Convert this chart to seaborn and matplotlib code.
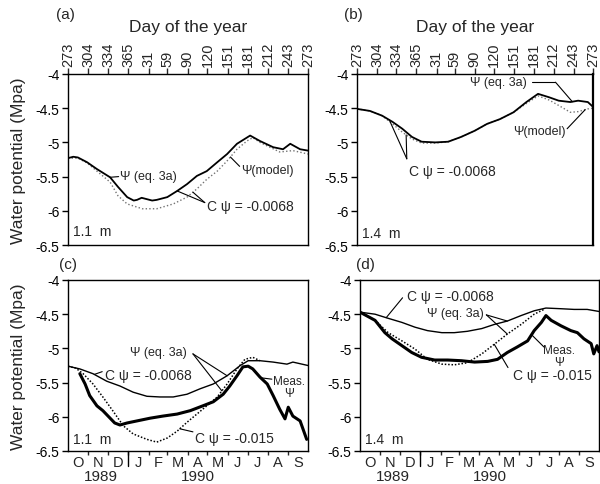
import numpy as np
import matplotlib
matplotlib.use("Agg")
import matplotlib.pyplot as plt
import matplotlib.transforms as mtransforms
import seaborn as sns

sns.set_theme(style="ticks")
plt.rcParams["font.family"] = ["Liberation Sans", "DejaVu Sans"]
plt.rcParams["axes.unicode_minus"] = False

# ---- calendar: days counted from 1 October 1989 ----
MONTH_STARTS = [0, 31, 61, 92, 123, 151, 182, 212, 243, 273, 304, 335, 365]
DOY_LABELS = ["273", "304", "334", "365", "31", "59", "90", "120",
              "151", "181", "212", "243", "273"]
MONTH_LETTERS = ["O", "N", "D", "J", "F", "M", "A", "M", "J", "J", "A", "S"]
YEARS = ["1989", "1990"]
YEAR_DAYS = [50, 198]
YTICKS = [-4, -4.5, -5, -5.5, -6, -6.5]
YTICK_LABELS = ["-4", "-4.5", "-5", "-5.5", "-6", "-6.5"]

# ---- (a) 1.1 m ----
A_EQ_DAY = [0, 8, 15, 29, 44, 64, 76, 90, 100, 105, 112, 120, 128, 135, 151, 166,
            181, 196, 211, 227, 242, 257, 277, 292, 312, 327, 338, 353, 365]
A_EQ_PSI = [-5.23, -5.21, -5.22, -5.29, -5.39, -5.51, -5.65, -5.80, -5.85, -5.84,
            -5.81, -5.83, -5.85, -5.84, -5.80, -5.71, -5.61, -5.49, -5.42, -5.29,
            -5.17, -5.02, -4.90, -4.98, -5.07, -5.10, -5.02, -5.10, -5.12]
A_MOD_DAY = [0, 15, 29, 44, 64, 76, 90, 113, 135, 160, 181, 196, 211, 227, 242,
             257, 272, 281, 292, 322, 342, 365]
A_MOD_PSI = [-5.23, -5.23, -5.30, -5.42, -5.58, -5.78, -5.90, -5.97, -5.97, -5.90,
             -5.80, -5.68, -5.54, -5.42, -5.27, -5.10, -4.98, -4.93, -5.00, -5.14,
             -5.12, -5.17]

# ---- (b) 1.4 m ----
B_EQ_DAY = [0, 20, 39, 55, 70, 85, 100, 121, 141, 161, 182, 201, 221, 242, 262,
            280, 297, 312, 330, 342, 357, 365]
B_EQ_PSI = [-4.51, -4.54, -4.61, -4.70, -4.80, -4.92, -4.99, -5.00, -4.99, -4.92,
            -4.83, -4.73, -4.66, -4.56, -4.41, -4.29, -4.34, -4.39, -4.41, -4.39,
            -4.41, -4.48]
B_MOD_DAY = [0, 20, 39, 55, 70, 85, 100, 121, 141, 161, 182, 201, 221, 242, 262,
             280, 297, 312, 330, 342, 357, 365]
B_MOD_PSI = [-4.51, -4.54, -4.61, -4.73, -4.85, -4.95, -5.01, -5.01, -4.99, -4.92,
             -4.83, -4.73, -4.66, -4.56, -4.43, -4.32, -4.38, -4.46, -4.56, -4.55,
             -4.51, -4.50]

# ---- (c) 1.1 m ----
C_LO_DAY = [0, 18, 38, 59, 79, 99, 120, 140, 160, 181, 201, 221, 242, 262, 274,
            292, 312, 333, 342, 365]
C_LO_PSI = [-5.26, -5.30, -5.37, -5.48, -5.55, -5.64, -5.70, -5.71, -5.71, -5.67,
            -5.59, -5.52, -5.40, -5.25, -5.18, -5.18, -5.20, -5.23, -5.20, -5.25]
C_HI_DAY = [0, 12, 23, 38, 53, 68, 84, 99, 120, 135, 151, 166, 181, 196, 211, 227,
            242, 257, 269, 281, 292]
C_HI_PSI = [-5.26, -5.29, -5.37, -5.52, -5.71, -5.91, -6.13, -6.25, -6.33, -6.37,
            -6.31, -6.21, -6.08, -5.96, -5.84, -5.71, -5.52, -5.30, -5.16, -5.13,
            -5.18]
C_MEAS_DAY = [18, 26, 33, 44, 53, 64, 71, 79, 90, 105, 125, 144, 166, 186, 205,
              221, 236, 246, 257, 266, 274, 281, 292, 303, 312, 322, 330, 335, 342,
              353, 363]
C_MEAS_PSI = [-5.37, -5.52, -5.69, -5.84, -5.91, -6.02, -6.09, -6.12, -6.09, -6.06,
              -6.02, -5.99, -5.96, -5.91, -5.84, -5.78, -5.67, -5.55, -5.40, -5.27,
              -5.26, -5.30, -5.42, -5.52, -5.69, -5.89, -6.03, -5.86, -5.99, -6.06,
              -6.33]

# ---- (d) 1.4 m ----
D_LO_DAY = [0, 23, 43, 64, 84, 103, 125, 144, 164, 186, 205, 225, 246, 266, 284,
            307, 327, 347, 365]
D_LO_PSI = [-4.47, -4.50, -4.56, -4.62, -4.69, -4.74, -4.77, -4.77, -4.75, -4.71,
            -4.65, -4.60, -4.52, -4.45, -4.41, -4.42, -4.43, -4.43, -4.46]
D_HI_DAY = [0, 23, 43, 64, 84, 103, 125, 144, 164, 186, 205, 225, 246, 266, 281]
D_HI_PSI = [-4.47, -4.59, -4.77, -4.89, -5.01, -5.16, -5.23, -5.24, -5.21, -5.08,
            -4.94, -4.79, -4.65, -4.50, -4.43]
D_MEAS_DAY = [0, 23, 38, 49, 64, 79, 94, 114, 134, 155, 175, 195, 210, 225, 240,
              256, 266, 277, 284, 292, 307, 322, 332, 342, 353, 357, 362, 365]
D_MEAS_PSI = [-4.47, -4.59, -4.77, -4.86, -4.96, -5.06, -5.13, -5.17, -5.17, -5.18,
              -5.20, -5.19, -5.16, -5.06, -4.98, -4.89, -4.74, -4.62, -4.52, -4.59,
              -4.67, -4.74, -4.77, -4.86, -4.93, -5.08, -4.96, -5.05]

W, H = 600, 485
fig = plt.figure(figsize=(W / 100, H / 100), dpi=100)


def box(left, top, width, height):
    return fig.add_axes([left / W, 1 - (top + height) / H, width / W, height / H])


ax_a = box(68, 75, 240, 171)
ax_b = box(357, 75, 236, 171)
ax_c = box(68, 281, 240, 171)
ax_d = box(360, 281, 239, 171)


def base_style(ax):
    ax.set_xlim(MONTH_STARTS[0], MONTH_STARTS[-1])
    ax.set_ylim(-6.5, -4)
    ax.set_yticks(YTICKS)
    ax.set_yticklabels(YTICK_LABELS, fontsize=10)
    ax.tick_params(axis="y", direction="out", length=4, width=1, pad=2,
                   left=True, colors="black")
    for s in ax.spines.values():
        s.set_visible(True)
        s.set_color("black")
        s.set_linewidth(1.0)
    ax.set_xlabel("")
    ax.set_ylabel("")


def top_axis(ax):
    ax.xaxis.tick_top()
    ax.set_xticks(MONTH_STARTS)
    ax.set_xticklabels(DOY_LABELS, rotation=90, fontsize=10.5)
    ax.tick_params(axis="x", top=True, bottom=False, direction="out",
                   length=4, width=1, pad=2)
    ax.xaxis.set_label_position("top")
    ax.set_xlabel("Day of the year", fontsize=12.5, labelpad=7)


def month_axis(ax):
    ax.set_xticks(MONTH_STARTS[1:-1])
    ax.set_xticklabels([])
    ax.tick_params(axis="x", which="major", direction="out", length=3,
                   width=1, bottom=True)
    centers = [(a + b) / 2 for a, b in zip(MONTH_STARTS[:-1], MONTH_STARTS[1:])]
    ax.set_xticks(centers, minor=True)
    ax.set_xticklabels(MONTH_LETTERS, minor=True, fontsize=10.5)
    ax.tick_params(axis="x", which="minor", length=0, pad=3)
    trans = mtransforms.blended_transform_factory(ax.transData, ax.transAxes)
    jan = MONTH_STARTS[3]
    ax.plot([jan, jan], [0, -0.09], transform=trans, color="black", lw=1,
            clip_on=False)
    for year, d in zip(YEARS, YEAR_DAYS):
        ax.text(d, -0.145, year, transform=trans, ha="center", va="center",
                fontsize=11)


def line(ax, days, vals, lw=1.0, ls="-", color="black"):
    sns.lineplot(x=days, y=vals, ax=ax, color=color, lw=lw, linestyle=ls,
                 sort=False, estimator=None)


def leader(ax, start, day, days, vals):
    ax.annotate("", xy=(day, np.interp(day, days, vals)), xytext=start,
                arrowprops=dict(arrowstyle="-", color="black", lw=0.8,
                                shrinkA=0, shrinkB=0))


DOT_LIGHT = (0, (1, 1.6))
DOT_DARK = (0, (1, 1.2))

# (a)
line(ax_a, A_MOD_DAY, A_MOD_PSI, lw=1.0, ls=DOT_LIGHT, color="0.45")
line(ax_a, A_EQ_DAY, A_EQ_PSI, lw=1.3)
base_style(ax_a)
top_axis(ax_a)
ax_a.text(79, -5.49, "Ψ (eq. 3a)", ha="left", va="center", fontsize=9)
leader(ax_a, (77, -5.50), 64, A_EQ_DAY, A_EQ_PSI)
ax_a.text(264, -5.40, "Ψ(model)", ha="left", va="center", fontsize=9)
leader(ax_a, (261, -5.35), 247, A_MOD_DAY, A_MOD_PSI)
ax_a.text(211, -5.93, "C ψ = -0.0068", ha="left", va="center", fontsize=10)
leader(ax_a, (208, -5.88), 166, A_EQ_DAY, A_EQ_PSI)
leader(ax_a, (208, -5.88), 190, A_MOD_DAY, A_MOD_PSI)
ax_a.text(0.02, 0.08, "1.1  m", transform=ax_a.transAxes, ha="left",
          va="center", fontsize=10)
ax_a.set_ylabel("Water potential (Mpa)", fontsize=12.5, labelpad=7)

# (b)
line(ax_b, B_MOD_DAY, B_MOD_PSI, lw=1.0, ls=DOT_LIGHT, color="0.45")
line(ax_b, B_EQ_DAY, B_EQ_PSI, lw=1.3)
base_style(ax_b)
top_axis(ax_b)
ax_b.spines["right"].set_linewidth(1.6)
ax_b.text(262, -4.12, "Ψ (eq. 3a)", ha="right", va="center", fontsize=9)
ax_b.plot([270, 307], [-4.12, -4.12], color="black", lw=0.8)
leader(ax_b, (307, -4.12), 333, B_EQ_DAY, B_EQ_PSI)
ax_b.text(322, -4.83, "Ψ(model)", ha="right", va="center", fontsize=9)
leader(ax_b, (325, -4.80), 353, B_MOD_DAY, B_MOD_PSI)
ax_b.text(80, -5.42, "C ψ = -0.0068", ha="left", va="center", fontsize=10)
leader(ax_b, (77, -5.24), 50, B_EQ_DAY, B_EQ_PSI)
leader(ax_b, (77, -5.24), 76, B_MOD_DAY, B_MOD_PSI)
ax_b.text(0.02, 0.07, "1.4  m", transform=ax_b.transAxes, ha="left",
          va="center", fontsize=10)

# (c)
line(ax_c, C_HI_DAY, C_HI_PSI, lw=1.1, ls=DOT_DARK)
line(ax_c, C_LO_DAY, C_LO_PSI, lw=1.0)
line(ax_c, C_MEAS_DAY, C_MEAS_PSI, lw=2.2)
base_style(ax_c)
month_axis(ax_c)
ax_c.text(94, -5.05, "Ψ (eq. 3a)", ha="left", va="center", fontsize=9)
leader(ax_c, (190, -5.08), 242, C_LO_DAY, C_LO_PSI)
leader(ax_c, (190, -5.08), 234, C_HI_DAY, C_HI_PSI)
ax_c.text(56, -5.39, "C ψ = -0.0068", ha="left", va="center", fontsize=10)
leader(ax_c, (52, -5.34), 40, C_LO_DAY, C_LO_PSI)
ax_c.text(193, -6.31, "C ψ = -0.015", ha="left", va="center", fontsize=10)
leader(ax_c, (190, -6.22), 170, C_HI_DAY, C_HI_PSI)
ax_c.text(336, -5.56, "Meas.\nΨ", ha="center", va="center", fontsize=8.5,
          linespacing=1.0)
leader(ax_c, (310, -5.45), 293, C_MEAS_DAY, C_MEAS_PSI)
ax_c.text(0.02, 0.07, "1.1  m", transform=ax_c.transAxes, ha="left",
          va="center", fontsize=10)
ax_c.set_ylabel("Water potential (Mpa)", fontsize=12.5, labelpad=7)

# (d)
line(ax_d, D_HI_DAY, D_HI_PSI, lw=1.1, ls=DOT_DARK)
line(ax_d, D_LO_DAY, D_LO_PSI, lw=1.0)
line(ax_d, D_MEAS_DAY, D_MEAS_PSI, lw=2.2)
base_style(ax_d)
month_axis(ax_d)
ax_d.text(72, -4.23, "C ψ = -0.0068", ha="left", va="center", fontsize=10)
leader(ax_d, (65, -4.26), 40, D_LO_DAY, D_LO_PSI)
ax_d.text(103, -4.48, "Ψ (eq. 3a)", ha="left", va="center", fontsize=9)
leader(ax_d, (193, -4.51), 225, D_LO_DAY, D_LO_PSI)
leader(ax_d, (193, -4.51), 225, D_HI_DAY, D_HI_PSI)
ax_d.text(304, -5.11, "Meas.\nΨ", ha="center", va="center", fontsize=8.5,
          linespacing=1.0)
leader(ax_d, (281, -4.98), 262, D_MEAS_DAY, D_MEAS_PSI)
ax_d.text(233, -5.39, "C ψ = -0.015", ha="left", va="center", fontsize=10)
leader(ax_d, (226, -5.28), 205, D_HI_DAY, D_HI_PSI)
ax_d.text(0.02, 0.07, "1.4  m", transform=ax_d.transAxes, ha="left",
          va="center", fontsize=10)

# panel letters
for letter, (px, py) in zip(["(a)", "(b)", "(c)", "(d)"],
                            [(65, 15), (353, 15), (68, 265), (365, 265)]):
    fig.text(px / W, 1 - py / H, letter, ha="center", va="center", fontsize=11)

fig.savefig("out.png", dpi=100, facecolor="white")
